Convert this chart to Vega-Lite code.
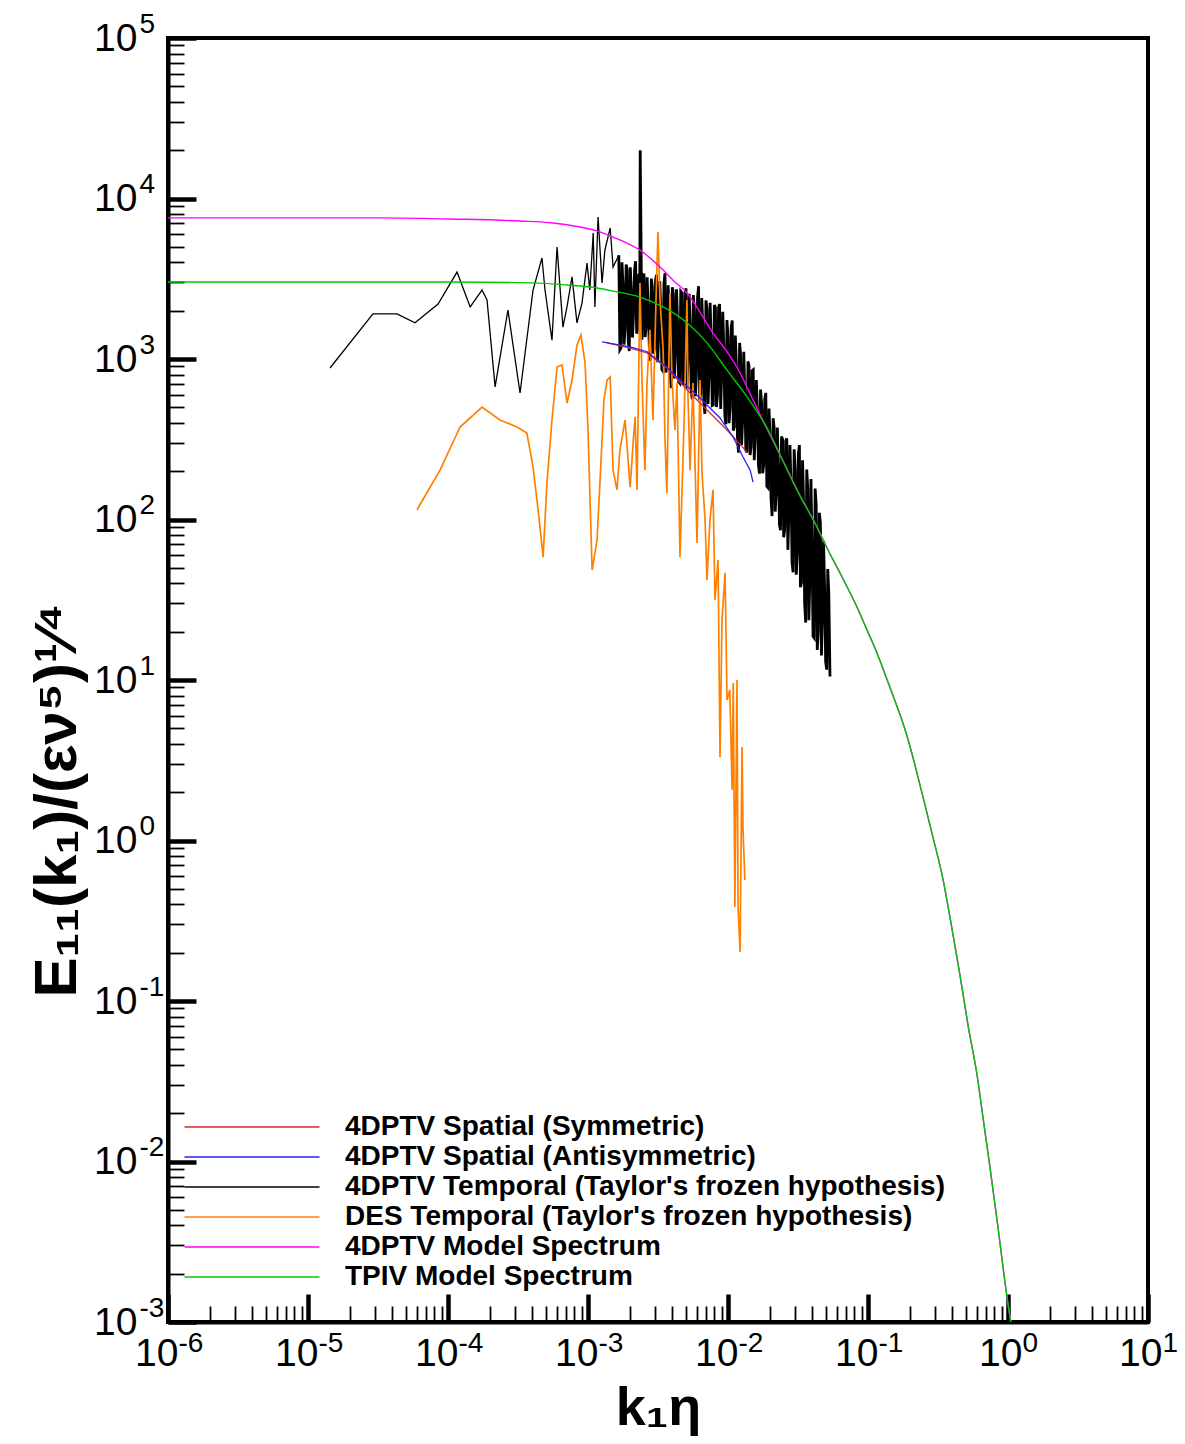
{
  "$schema": "https://vega.github.io/schema/vega-lite/v6.json",
  "width": 980,
  "height": 1284,
  "autosize": {"type": "none"},
  "padding": {"left": 168, "top": 38, "right": 37, "bottom": 122},
  "background": "white",
  "config": {"view": {"stroke": "black", "strokeWidth": 4}, "font": "Liberation Sans"},
  "datasets": {
    "temporal": [
      {"k": 1.436e-5, "E": 879}, {"k": 2.91e-5, "E": 1910}, {"k": 4.32e-5, "E": 1910}, {"k": 5.81e-5, "E": 1680},
      {"k": 8.49e-5, "E": 2200}, {"k": 1.16e-4, "E": 3480}, {"k": 1.44e-4, "E": 2110}, {"k": 1.75e-4, "E": 2690},
      {"k": 1.90e-4, "E": 2330}, {"k": 2.17e-4, "E": 670}, {"k": 2.68e-4, "E": 2020}, {"k": 3.27e-4, "E": 614},
      {"k": 4.05e-4, "E": 2690}, {"k": 4.69e-4, "E": 4260}, {"k": 4.93e-4, "E": 2690}, {"k": 5.53e-4, "E": 1310},
      {"k": 6.01e-4, "E": 4990}, {"k": 6.62e-4, "E": 1580}, {"k": 7.08e-4, "E": 2110}, {"k": 7.69e-4, "E": 3250},
      {"k": 8.34e-4, "E": 1680}, {"k": 9.06e-4, "E": 2230}, {"k": 9.84e-4, "E": 3960}, {"k": 1.03e-3, "E": 2690},
      {"k": 1.09e-3, "E": 6100}, {"k": 1.12e-3, "E": 2110}, {"k": 1.18e-3, "E": 7670}, {"k": 1.26e-3, "E": 2980},
      {"k": 1.32e-3, "E": 4770}, {"k": 1.44e-3, "E": 6550}, {"k": 1.51e-3, "E": 3740},
      {"k": 1.660e-3, "E": 4430}, {"k": 1.689e-3, "E": 1140}, {"k": 1.718e-3, "E": 1170}, {"k": 1.748e-3, "E": 4000},
      {"k": 1.778e-3, "E": 2940}, {"k": 1.809e-3, "E": 1230}, {"k": 1.841e-3, "E": 1540}, {"k": 1.873e-3, "E": 3880},
      {"k": 1.905e-3, "E": 3600}, {"k": 1.938e-3, "E": 1290}, {"k": 1.972e-3, "E": 1120}, {"k": 2.006e-3, "E": 3730},
      {"k": 2.042e-3, "E": 2540}, {"k": 2.078e-3, "E": 1360}, {"k": 2.113e-3, "E": 1860}, {"k": 2.150e-3, "E": 3560},
      {"k": 2.188e-3, "E": 4070}, {"k": 2.226e-3, "E": 1440}, {"k": 2.265e-3, "E": 1510}, {"k": 2.304e-3, "E": 3400},
      {"k": 2.344e-3, "E": 2970}, {"k": 2.36e-3, "E": 20000}, {"k": 2.427e-3, "E": 1320}, {"k": 2.469e-3, "E": 3290},
      {"k": 2.512e-3, "E": 3400}, {"k": 2.556e-3, "E": 1370}, {"k": 2.600e-3, "E": 1600}, {"k": 2.645e-3, "E": 3230},
      {"k": 2.692e-3, "E": 2100}, {"k": 2.739e-3, "E": 1220}, {"k": 2.786e-3, "E": 977}, {"k": 2.834e-3, "E": 3170},
      {"k": 2.884e-3, "E": 2790}, {"k": 2.934e-3, "E": 1080}, {"k": 2.985e-3, "E": 1160}, {"k": 3.037e-3, "E": 3110},
      {"k": 3.090e-3, "E": 3350}, {"k": 3.144e-3, "E": 956}, {"k": 3.199e-3, "E": 1420}, {"k": 3.255e-3, "E": 3050},
      {"k": 3.311e-3, "E": 2040}, {"k": 3.369e-3, "E": 860}, {"k": 3.428e-3, "E": 841}, {"k": 3.488e-3, "E": 2970},
      {"k": 3.548e-3, "E": 3430}, {"k": 3.610e-3, "E": 823}, {"k": 3.673e-3, "E": 1030}, {"k": 3.737e-3, "E": 2880},
      {"k": 3.802e-3, "E": 2060}, {"k": 3.868e-3, "E": 787}, {"k": 3.936e-3, "E": 659}, {"k": 4.005e-3, "E": 2800},
      {"k": 4.074e-3, "E": 2540}, {"k": 4.145e-3, "E": 756}, {"k": 4.217e-3, "E": 1110}, {"k": 4.290e-3, "E": 2720},
      {"k": 4.365e-3, "E": 1640}, {"k": 4.441e-3, "E": 722}, {"k": 4.519e-3, "E": 708}, {"k": 4.598e-3, "E": 2640},
      {"k": 4.677e-3, "E": 2590}, {"k": 4.758e-3, "E": 689}, {"k": 4.842e-3, "E": 800}, {"k": 4.926e-3, "E": 2590},
      {"k": 5.012e-3, "E": 2760}, {"k": 5.099e-3, "E": 653}, {"k": 5.188e-3, "E": 1070}, {"k": 5.278e-3, "E": 2550},
      {"k": 5.370e-3, "E": 1620}, {"k": 5.463e-3, "E": 620}, {"k": 5.559e-3, "E": 562}, {"k": 5.656e-3, "E": 2500},
      {"k": 5.754e-3, "E": 2040}, {"k": 5.854e-3, "E": 586}, {"k": 5.957e-3, "E": 830}, {"k": 6.061e-3, "E": 2440},
      {"k": 6.166e-3, "E": 2840}, {"k": 6.273e-3, "E": 557}, {"k": 6.383e-3, "E": 610}, {"k": 6.494e-3, "E": 2400},
      {"k": 6.607e-3, "E": 1610}, {"k": 6.722e-3, "E": 538}, {"k": 6.839e-3, "E": 455}, {"k": 6.958e-3, "E": 2320},
      {"k": 7.079e-3, "E": 2040}, {"k": 7.202e-3, "E": 525}, {"k": 7.328e-3, "E": 826}, {"k": 7.455e-3, "E": 2240},
      {"k": 7.586e-3, "E": 1270}, {"k": 7.718e-3, "E": 514}, {"k": 7.852e-3, "E": 518}, {"k": 7.989e-3, "E": 2170},
      {"k": 8.128e-3, "E": 2090}, {"k": 8.269e-3, "E": 502}, {"k": 8.414e-3, "E": 601}, {"k": 8.560e-3, "E": 2090},
      {"k": 8.710e-3, "E": 2200}, {"k": 8.862e-3, "E": 489}, {"k": 9.016e-3, "E": 805}, {"k": 9.173e-3, "E": 1970},
      {"k": 9.333e-3, "E": 1180}, {"k": 9.496e-3, "E": 442}, {"k": 9.661e-3, "E": 392}, {"k": 9.829e-3, "E": 1750},
      {"k": 1.000e-2, "E": 1370}, {"k": 1.0174e-2, "E": 398}, {"k": 1.035e-2, "E": 499}, {"k": 1.053e-2, "E": 1570},
      {"k": 1.072e-2, "E": 1740}, {"k": 1.091e-2, "E": 358}, {"k": 1.109e-2, "E": 377}, {"k": 1.128e-2, "E": 1400},
      {"k": 1.148e-2, "E": 925}, {"k": 1.168e-2, "E": 322}, {"k": 1.189e-2, "E": 261}, {"k": 1.210e-2, "E": 1260},
      {"k": 1.230e-2, "E": 1070}, {"k": 1.251e-2, "E": 291}, {"k": 1.274e-2, "E": 433}, {"k": 1.296e-2, "E": 1110},
      {"k": 1.318e-2, "E": 624}, {"k": 1.341e-2, "E": 270}, {"k": 1.365e-2, "E": 262}, {"k": 1.389e-2, "E": 966},
      {"k": 1.413e-2, "E": 904}, {"k": 1.438e-2, "E": 252}, {"k": 1.462e-2, "E": 284}, {"k": 1.487e-2, "E": 845},
      {"k": 1.514e-2, "E": 857}, {"k": 1.540e-2, "E": 234}, {"k": 1.567e-2, "E": 352}, {"k": 1.594e-2, "E": 739},
      {"k": 1.622e-2, "E": 483}, {"k": 1.650e-2, "E": 218}, {"k": 1.679e-2, "E": 193}, {"k": 1.708e-2, "E": 645},
      {"k": 1.738e-2, "E": 528}, {"k": 1.768e-2, "E": 194}, {"k": 1.799e-2, "E": 219}, {"k": 1.830e-2, "E": 563},
      {"k": 1.862e-2, "E": 615}, {"k": 1.894e-2, "E": 161}, {"k": 1.928e-2, "E": 158}, {"k": 1.962e-2, "E": 491},
      {"k": 1.995e-2, "E": 338}, {"k": 2.030e-2, "E": 135}, {"k": 2.065e-2, "E": 105}, {"k": 2.101e-2, "E": 428},
      {"k": 2.138e-2, "E": 369}, {"k": 2.175e-2, "E": 112}, {"k": 2.213e-2, "E": 153}, {"k": 2.252e-2, "E": 374},
      {"k": 2.291e-2, "E": 212}, {"k": 2.331e-2, "E": 92.9}, {"k": 2.371e-2, "E": 85.7}, {"k": 2.412e-2, "E": 329},
      {"k": 2.455e-2, "E": 315}, {"k": 2.498e-2, "E": 77.5}, {"k": 2.541e-2, "E": 86.5}, {"k": 2.585e-2, "E": 309},
      {"k": 2.630e-2, "E": 320}, {"k": 2.676e-2, "E": 64.7}, {"k": 2.723e-2, "E": 108}, {"k": 2.770e-2, "E": 291},
      {"k": 2.818e-2, "E": 166}, {"k": 2.867e-2, "E": 54.2}, {"k": 2.917e-2, "E": 46.9}, {"k": 2.968e-2, "E": 274},
      {"k": 3.020e-2, "E": 204}, {"k": 3.073e-2, "E": 45.3}, {"k": 3.126e-2, "E": 60.4}, {"k": 3.180e-2, "E": 256},
      {"k": 3.236e-2, "E": 291}, {"k": 3.292e-2, "E": 37.9}, {"k": 3.350e-2, "E": 40.6}, {"k": 3.408e-2, "E": 234},
      {"k": 3.467e-2, "E": 129}, {"k": 3.527e-2, "E": 30.1}, {"k": 3.589e-2, "E": 22.8}, {"k": 3.651e-2, "E": 205},
      {"k": 3.715e-2, "E": 156}, {"k": 3.780e-2, "E": 23.6}, {"k": 3.846e-2, "E": 42.4}, {"k": 3.913e-2, "E": 179},
      {"k": 3.981e-2, "E": 71.8}, {"k": 4.050e-2, "E": 18.7}, {"k": 4.121e-2, "E": 18.3}, {"k": 4.193e-2, "E": 156},
      {"k": 4.266e-2, "E": 123}, {"k": 4.340e-2, "E": 15.4}, {"k": 4.416e-2, "E": 20.1}, {"k": 4.493e-2, "E": 110},
      {"k": 4.571e-2, "E": 94.6}, {"k": 4.651e-2, "E": 14.2}, {"k": 4.732e-2, "E": 25.9}, {"k": 4.814e-2, "E": 73.6},
      {"k": 4.898e-2, "E": 36.9}, {"k": 4.983e-2, "E": 13.0}, {"k": 5.070e-2, "E": 11.6}, {"k": 5.158e-2, "E": 49.1},
      {"k": 5.248e-2, "E": 34.7}, {"k": 5.35e-2, "E": 10.5}
    ],
    "des": [
      {"k": 6.01e-5, "E": 115}, {"k": 8.77e-5, "E": 203}, {"k": 1.22e-4, "E": 377}, {"k": 1.75e-4, "E": 502},
      {"k": 2.35e-4, "E": 417}, {"k": 3.11e-4, "E": 377}, {"k": 3.66e-4, "E": 346}, {"k": 4.05e-4, "E": 212},
      {"k": 4.40e-4, "E": 115}, {"k": 4.78e-4, "E": 58.3}, {"k": 5.09e-4, "E": 169}, {"k": 5.53e-4, "E": 417},
      {"k": 6.01e-4, "E": 891}, {"k": 6.52e-4, "E": 918}, {"k": 7.08e-4, "E": 532}, {"k": 7.69e-4, "E": 740},
      {"k": 8.34e-4, "E": 1220}, {"k": 8.91e-4, "E": 1410}, {"k": 9.53e-4, "E": 944}, {"k": 1.0e-3, "E": 361},
      {"k": 1.07e-3, "E": 48.4}, {"k": 1.16e-3, "E": 74.5}, {"k": 1.22e-3, "E": 176}, {"k": 1.30e-3, "E": 556},
      {"k": 1.37e-3, "E": 740}, {"k": 1.44e-3, "E": 773}, {"k": 1.51e-3, "E": 203}, {"k": 1.61e-3, "E": 153},
      {"k": 1.69e-3, "E": 271}, {"k": 1.84e-3, "E": 417}, {"k": 2.00e-3, "E": 159}, {"k": 2.10e-3, "E": 300},
      {"k": 2.17e-3, "E": 436}, {"k": 2.24e-3, "E": 153}, {"k": 2.35e-3, "E": 2980}, {"k": 2.43e-3, "E": 740},
      {"k": 2.55e-3, "E": 203}, {"k": 2.64e-3, "E": 708}, {"k": 2.77e-3, "E": 1520}, {"k": 2.91e-3, "E": 417},
      {"k": 3.06e-3, "E": 2330}, {"k": 3.16e-3, "E": 6180}, {"k": 3.27e-3, "E": 2330}, {"k": 3.44e-3, "E": 1140},
      {"k": 3.55e-3, "E": 313}, {"k": 3.66e-3, "E": 146}, {"k": 3.72e-3, "E": 361}, {"k": 3.85e-3, "E": 2580},
      {"k": 3.98e-3, "E": 740}, {"k": 4.18e-3, "E": 361}, {"k": 4.32e-3, "E": 708}, {"k": 4.54e-3, "E": 58.3},
      {"k": 4.86e-3, "E": 417}, {"k": 5.09e-3, "E": 2330}, {"k": 5.18e-3, "E": 580}, {"k": 5.36e-3, "E": 203},
      {"k": 5.62e-3, "E": 708}, {"k": 6.01e-3, "E": 71.4}, {"k": 6.31e-3, "E": 740}, {"k": 6.52e-3, "E": 195},
      {"k": 6.86e-3, "E": 99.3}, {"k": 7.08e-3, "E": 42.0}, {"k": 7.43e-3, "E": 99.3}, {"k": 7.82e-3, "E": 153},
      {"k": 8.07e-3, "E": 31.5}, {"k": 8.49e-3, "E": 56.0}, {"k": 8.77e-3, "E": 3.31}, {"k": 9.06e-3, "E": 23.7},
      {"k": 9.53e-3, "E": 46.5}, {"k": 9.84e-3, "E": 7.5}, {"k": 1.03e-2, "E": 8.67}, {"k": 1.07e-2, "E": 2.07},
      {"k": 1.09e-2, "E": 9.58}, {"k": 1.12e-2, "E": 0.385}, {"k": 1.16e-2, "E": 10}, {"k": 1.18e-2, "E": 0.385},
      {"k": 1.22e-2, "E": 0.202}, {"k": 1.26e-2, "E": 3.83}, {"k": 1.28e-2, "E": 1.16}, {"k": 1.32e-2, "E": 0.568}
    ],
    "sym": [
      {"k": 1.37e-3, "E": 1260}, {"k": 2.0e-3, "E": 1170}, {"k": 2.64e-3, "E": 1090}, {"k": 3.66e-3, "E": 879},
      {"k": 5.36e-3, "E": 614}, {"k": 7.08e-3, "E": 481}, {"k": 9.84e-3, "E": 361}, {"k": 1.39e-2, "E": 259}
    ],
    "anti": [
      {"k": 1.26e-3, "E": 1280}, {"k": 2.0e-3, "E": 1190}, {"k": 2.64e-3, "E": 1110}, {"k": 3.66e-3, "E": 891},
      {"k": 4.54e-3, "E": 740}, {"k": 6.31e-3, "E": 571}, {"k": 8.77e-3, "E": 429}, {"k": 1.09e-2, "E": 326},
      {"k": 1.28e-2, "E": 245}, {"k": 1.44e-2, "E": 203}, {"k": 1.51e-2, "E": 171}
    ],
    "model4d": [
      {"k": 1e-6, "E": 7570}, {"k": 3.27e-5, "E": 7570}, {"k": 1.03e-4, "E": 7450}, {"k": 3.27e-4, "E": 7240},
      {"k": 5.62e-4, "E": 7040}, {"k": 8.77e-4, "E": 6640}, {"k": 1.16e-3, "E": 6280}, {"k": 1.51e-3, "E": 5750},
      {"k": 1.90e-3, "E": 5280}, {"k": 2.35e-3, "E": 4770}, {"k": 3.27e-3, "E": 3740}, {"k": 4.05e-3, "E": 3100},
      {"k": 5.09e-3, "E": 2580}, {"k": 6.31e-3, "E": 1960}, {"k": 7.82e-3, "E": 1450}, {"k": 9.84e-3, "E": 1110},
      {"k": 1.22e-2, "E": 818}, {"k": 1.51e-2, "E": 556}, {"k": 1.90e-2, "E": 366}, {"k": 2.55e-2, "E": 219},
      {"k": 3.11e-2, "E": 153}, {"k": 4.32e-2, "E": 89.8}, {"k": 5.18e-2, "E": 64.6}, {"k": 6.31e-2, "E": 46.4},
      {"k": 8.34e-2, "E": 28.5}, {"k": 9.84e-2, "E": 20.5}, {"k": 0.116, "E": 14.7}, {"k": 0.144, "E": 8.91},
      {"k": 0.19, "E": 4.48}, {"k": 0.247, "E": 1.87}, {"k": 0.291, "E": 1.05}, {"k": 0.344, "E": 0.568},
      {"k": 0.385, "E": 0.333}, {"k": 0.454, "E": 0.145}, {"k": 0.518, "E": 0.0708}, {"k": 0.601, "E": 0.0346},
      {"k": 0.674, "E": 0.0169}, {"k": 0.743, "E": 0.00925}, {"k": 0.849, "E": 0.00386}, {"k": 0.984, "E": 0.00143},
      {"k": 1.07, "E": 0.00089}
    ],
    "tpiv": [
      {"k": 1e-6, "E": 3020}, {"k": 1.03e-4, "E": 3020}, {"k": 4.05e-4, "E": 2980}, {"k": 7.08e-4, "E": 2890},
      {"k": 1.16e-3, "E": 2770}, {"k": 1.51e-3, "E": 2650}, {"k": 2.35e-3, "E": 2430}, {"k": 3.44e-3, "E": 2110},
      {"k": 5.09e-3, "E": 1680}, {"k": 7.08e-3, "E": 1260}, {"k": 9.84e-3, "E": 853}, {"k": 1.37e-2, "E": 580},
      {"k": 1.90e-2, "E": 372}, {"k": 2.55e-2, "E": 219}, {"k": 3.11e-2, "E": 153}, {"k": 4.32e-2, "E": 89.8},
      {"k": 5.18e-2, "E": 64.6}, {"k": 6.31e-2, "E": 46.4}, {"k": 8.34e-2, "E": 28.5}, {"k": 9.84e-2, "E": 20.5},
      {"k": 0.116, "E": 14.7}, {"k": 0.144, "E": 8.91}, {"k": 0.19, "E": 4.48}, {"k": 0.247, "E": 1.87},
      {"k": 0.291, "E": 1.05}, {"k": 0.344, "E": 0.568}, {"k": 0.385, "E": 0.333}, {"k": 0.454, "E": 0.145},
      {"k": 0.518, "E": 0.0708}, {"k": 0.601, "E": 0.0346}, {"k": 0.674, "E": 0.0169}, {"k": 0.743, "E": 0.00925},
      {"k": 0.849, "E": 0.00386}, {"k": 0.984, "E": 0.00143}, {"k": 1.07, "E": 0.00089}
    ]
  },
  "layer": [
    {
      "data": {"name": "temporal"},
      "transform": [{"filter": {"field": "k", "lte": 0.00166}}],
      "mark": {"type": "line", "strokeWidth": 1.3, "clip": true},
      "encoding": {
        "x": {
          "field": "k", "type": "quantitative",
          "scale": {"type": "log", "domain": [1e-6, 10], "nice": false},
          "axis": {
            "orient": "bottom",
            "values": [1e-6,2e-6,3e-6,4e-6,5e-6,6e-6,7e-6,8e-6,9e-6,1e-5,2e-5,3e-5,4e-5,5e-5,6e-5,7e-5,8e-5,9e-5,1e-4,2e-4,3e-4,4e-4,5e-4,6e-4,7e-4,8e-4,9e-4,0.001,0.002,0.003,0.004,0.005,0.006,0.007,0.008,0.009,0.01,0.02,0.03,0.04,0.05,0.06,0.07,0.08,0.09,0.1,0.2,0.3,0.4,0.5,0.6,0.7,0.8,0.9,1,2,3,4,5,6,7,8,9,10],
            "labels": false, "grid": false,
            "domain": true, "domainColor": "black", "domainWidth": 4,
            "ticks": true, "tickColor": "black",
            "tickSize": {"condition": {"test": "abs(log(datum.value)/LN10 - round(log(datum.value)/LN10)) < 0.001", "value": -28}, "value": -16},
            "tickWidth": {"condition": {"test": "abs(log(datum.value)/LN10 - round(log(datum.value)/LN10)) < 0.001", "value": 4.5}, "value": 1.8},
            "title": "k₁η",
            "titleFont": "Liberation Sans", "titleFontSize": 54, "titleFontWeight": "bold", "titleColor": "black",
            "titleX": 490, "titleY": 102, "titleBaseline": "alphabetic", "titleAlign": "center"
          }
        },
        "y": {
          "field": "E", "type": "quantitative",
          "scale": {"type": "log", "domain": [0.001, 100000], "nice": false},
          "axis": {
            "orient": "left",
            "values": [0.001,0.002,0.003,0.004,0.005,0.006,0.007,0.008,0.009,0.01,0.02,0.03,0.04,0.05,0.06,0.07,0.08,0.09,0.1,0.2,0.3,0.4,0.5,0.6,0.7,0.8,0.9,1,2,3,4,5,6,7,8,9,10,20,30,40,50,60,70,80,90,100,200,300,400,500,600,700,800,900,1000,2000,3000,4000,5000,6000,7000,8000,9000,10000,20000,30000,40000,50000,60000,70000,80000,90000,100000],
            "labels": false, "grid": false,
            "domain": true, "domainColor": "black", "domainWidth": 4,
            "ticks": true, "tickColor": "black",
            "tickSize": {"condition": {"test": "abs(log(datum.value)/LN10 - round(log(datum.value)/LN10)) < 0.001", "value": -28}, "value": -16},
            "tickWidth": {"condition": {"test": "abs(log(datum.value)/LN10 - round(log(datum.value)/LN10)) < 0.001", "value": 4.5}, "value": 1.8},
            "title": "E₁₁(k₁)/(εν⁵)¹⁄⁴",
            "titleFont": "Liberation Sans", "titleFontSize": 60, "titleFontWeight": "bold", "titleColor": "black",
            "titleAngle": 270, "titleX": -93, "titleY": 762, "titleBaseline": "alphabetic", "titleAlign": "center"
          }
        },
        "color": {
          "datum": "4DPTV Temporal (Taylor's frozen hypothesis)", "type": "nominal",
          "scale": {
            "domain": ["4DPTV Spatial (Symmetric)", "4DPTV Spatial (Antisymmetric)", "4DPTV Temporal (Taylor's frozen hypothesis)", "DES Temporal (Taylor's frozen hypothesis)", "4DPTV Model Spectrum", "TPIV Model Spectrum"],
            "range": ["#e02828", "#2626ee", "#000000", "#ff8000", "#ff00ff", "#00c800"]
          },
          "legend": {
            "orient": "none", "legendX": 70, "legendY": 1075, "title": null, "direction": "vertical",
            "symbolType": "M-10,0H10", "symbolSize": 182.25, "symbolStrokeWidth": 1.5,
            "labelFont": "Liberation Sans", "labelFontSize": 28, "labelFontWeight": "bold", "labelColor": "black",
            "labelOffset": 79, "labelLimit": 1000, "rowPadding": 2, "padding": 0
          }
        }
      }
    },
    {
      "data": {"name": "temporal"},
      "transform": [{"filter": {"field": "k", "gte": 0.00166}}],
      "mark": {"type": "line", "strokeWidth": 2.8, "clip": true},
      "encoding": {
        "x": {"field": "k", "type": "quantitative", "scale": {"type": "log", "domain": [1e-6, 10], "nice": false}, "axis": null},
        "y": {"field": "E", "type": "quantitative", "scale": {"type": "log", "domain": [0.001, 100000], "nice": false}, "axis": null},
        "color": {"datum": "4DPTV Temporal (Taylor's frozen hypothesis)", "type": "nominal"}
      }
    },
    {
      "data": {"name": "des"},
      "mark": {"type": "line", "strokeWidth": 1.7, "clip": true},
      "encoding": {
        "x": {
          "field": "k", "type": "quantitative",
          "scale": {"type": "log", "domain": [1e-6, 10], "nice": false},
          "axis": {
            "orient": "bottom",
            "values": [1e-6, 1e-5, 1e-4, 0.001, 0.01, 0.1, 1, 10],
            "labelExpr": "'10'",
            "ticks": false, "domain": false, "grid": false,
            "labelFont": "Liberation Sans", "labelFontSize": 39, "labelColor": "black",
            "labelAlign": "right", "labelBaseline": "top", "labelPadding": 12,
            "labelOffset": {"condition": {"test": "datum.value >= 0.5", "value": 14}, "value": 10},
            "labelOverlap": false, "labelFlush": false, "labelBound": false,
            "title": null
          }
        },
        "y": {
          "field": "E", "type": "quantitative",
          "scale": {"type": "log", "domain": [0.001, 100000], "nice": false},
          "axis": {
            "orient": "left",
            "values": [0.001, 0.01, 0.1, 1, 10, 100, 1000, 10000, 100000],
            "labelExpr": "'10'",
            "ticks": false, "domain": false, "grid": false,
            "labelFont": "Liberation Sans", "labelFontSize": 39, "labelColor": "black",
            "labelAlign": "right", "labelBaseline": "middle", "labelPadding": 31,
            "labelOverlap": false, "labelFlush": false, "labelBound": false,
            "title": null
          }
        },
        "color": {"datum": "DES Temporal (Taylor's frozen hypothesis)", "type": "nominal"}
      }
    },
    {
      "data": {"name": "sym"},
      "mark": {"type": "line", "strokeWidth": 1.3, "clip": true},
      "encoding": {
        "x": {
          "field": "k", "type": "quantitative",
          "scale": {"type": "log", "domain": [1e-6, 10], "nice": false},
          "axis": {
            "orient": "bottom",
            "values": [1e-6, 1e-5, 1e-4, 0.001, 0.01, 0.1, 1, 10],
            "labelExpr": "'' + round(log(datum.value)/LN10)",
            "ticks": false, "domain": false, "grid": false,
            "labelFont": "Liberation Sans", "labelFontSize": 28, "labelColor": "black",
            "labelAlign": "left", "labelBaseline": "top", "labelPadding": 7,
            "labelOffset": {"condition": {"test": "datum.value >= 0.5", "value": 14}, "value": 10},
            "labelOverlap": false, "labelFlush": false, "labelBound": false,
            "title": null
          }
        },
        "y": {
          "field": "E", "type": "quantitative",
          "scale": {"type": "log", "domain": [0.001, 100000], "nice": false},
          "axis": {
            "orient": "left",
            "values": [0.001, 0.01, 0.1, 1, 10, 100, 1000, 10000, 100000],
            "labelExpr": "'' + round(log(datum.value)/LN10)",
            "ticks": false, "domain": false, "grid": false,
            "labelFont": "Liberation Sans", "labelFontSize": 28, "labelColor": "black",
            "labelAlign": "left", "labelBaseline": "middle", "labelPadding": 29,
            "labelOffset": -14,
            "labelOverlap": false, "labelFlush": false, "labelBound": false,
            "title": null
          }
        },
        "color": {"datum": "4DPTV Spatial (Symmetric)", "type": "nominal"}
      }
    },
    {
      "data": {"name": "anti"},
      "mark": {"type": "line", "strokeWidth": 1.3, "clip": true},
      "encoding": {
        "x": {"field": "k", "type": "quantitative", "scale": {"type": "log", "domain": [1e-6, 10], "nice": false}, "axis": null},
        "y": {"field": "E", "type": "quantitative", "scale": {"type": "log", "domain": [0.001, 100000], "nice": false}, "axis": null},
        "color": {"datum": "4DPTV Spatial (Antisymmetric)", "type": "nominal"}
      }
    },
    {
      "data": {"name": "model4d"},
      "mark": {"type": "line", "strokeWidth": 1.4, "clip": true, "interpolate": "monotone"},
      "encoding": {
        "x": {"field": "k", "type": "quantitative", "scale": {"type": "log", "domain": [1e-6, 10], "nice": false}, "axis": null},
        "y": {"field": "E", "type": "quantitative", "scale": {"type": "log", "domain": [0.001, 100000], "nice": false}, "axis": null},
        "color": {"datum": "4DPTV Model Spectrum", "type": "nominal"}
      }
    },
    {
      "data": {"name": "tpiv"},
      "mark": {"type": "line", "strokeWidth": 1.4, "clip": true, "interpolate": "monotone"},
      "encoding": {
        "x": {"field": "k", "type": "quantitative", "scale": {"type": "log", "domain": [1e-6, 10], "nice": false}, "axis": null},
        "y": {"field": "E", "type": "quantitative", "scale": {"type": "log", "domain": [0.001, 100000], "nice": false}, "axis": null},
        "color": {"datum": "TPIV Model Spectrum", "type": "nominal"}
      }
    }
  ],
  "resolve": {"axis": {"x": "independent", "y": "independent"}}
}
